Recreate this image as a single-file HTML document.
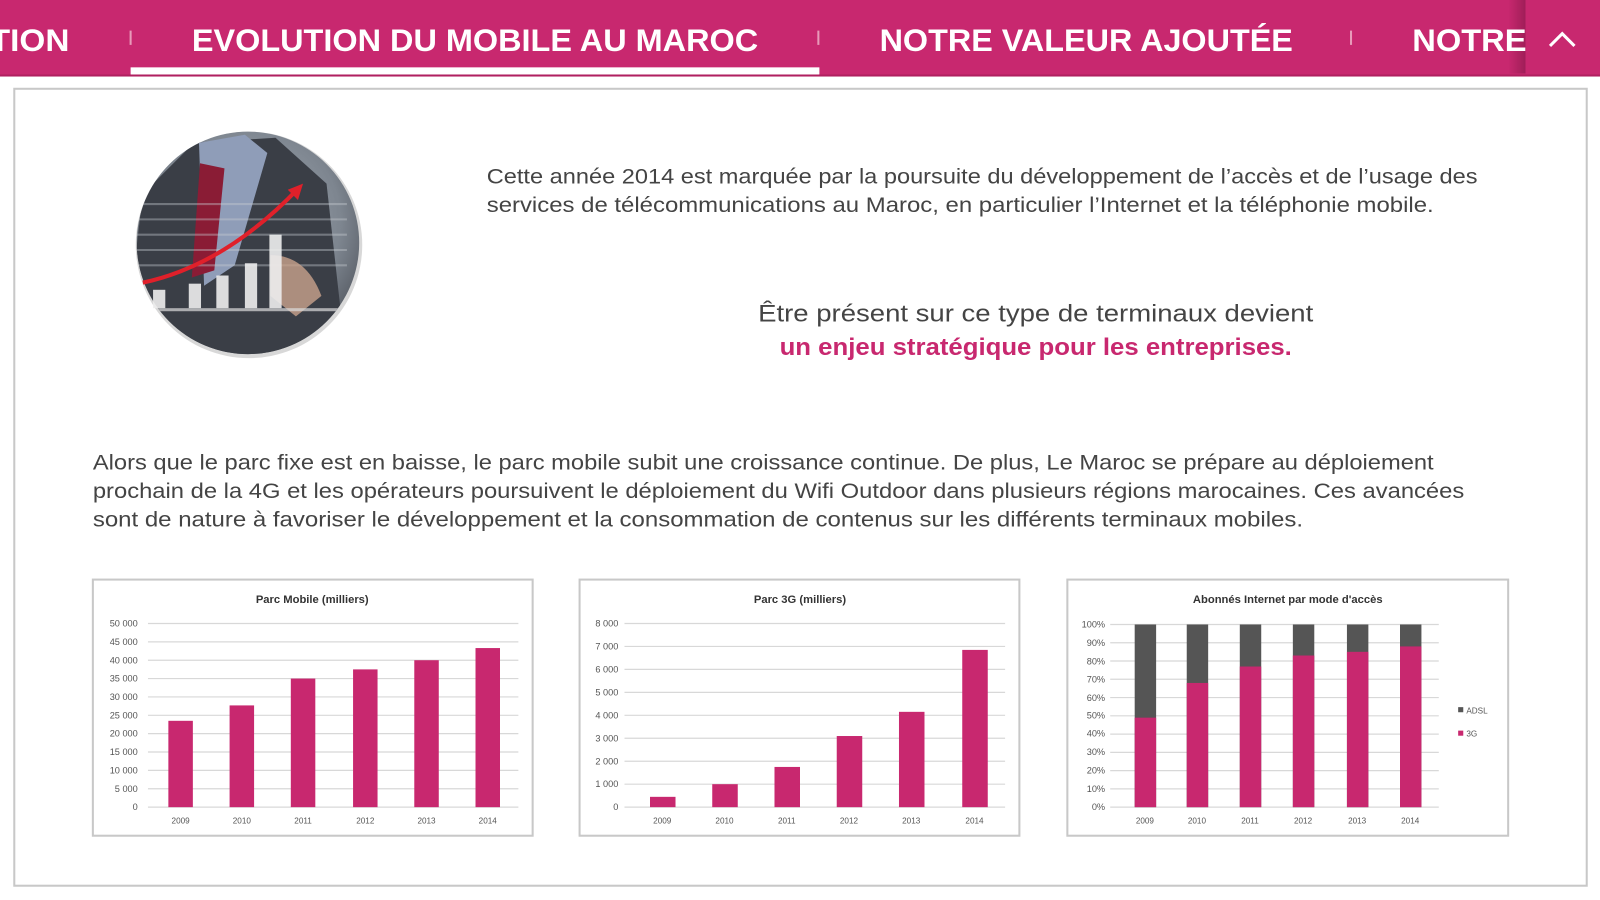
<!DOCTYPE html>
<html><head><meta charset="utf-8"><style>
html,body{margin:0;padding:0;background:#fff;width:1600px;height:900px;overflow:hidden}
svg{display:block}
text{font-family:"Liberation Sans",sans-serif}
</style></head><body>
<svg width="1600" height="900" viewBox="0 0 1568 882" preserveAspectRatio="none" xmlns="http://www.w3.org/2000/svg">
<defs>
<radialGradient id="cg" cx="0.5" cy="0.4" r="0.6"><stop offset="0" stop-color="#a8b0ba"/><stop offset="0.7" stop-color="#7d858f"/><stop offset="1" stop-color="#555a62"/></radialGradient>
<linearGradient id="sh" x1="0" x2="1"><stop offset="0" stop-color="#c8286f"/><stop offset="1" stop-color="#a01e58"/></linearGradient>
<clipPath id="cc"><circle cx="243" cy="238" r="109"/></clipPath>
</defs>
<rect x="0" y="0" width="1568" height="74" fill="#c8286f"/>
<rect x="128" y="66" width="675" height="8" fill="#fff"/>
<rect x="0" y="73" width="1568" height="2" fill="#b02060"/>
<rect x="1478" y="0" width="17" height="72" fill="url(#sh)"/>
<g fill="#fff" font-weight="bold" font-size="31">
<text x="-10" y="50" textLength="78" lengthAdjust="spacingAndGlyphs">TION</text>
<text x="188" y="50" textLength="555" lengthAdjust="spacingAndGlyphs">EVOLUTION DU MOBILE AU MAROC</text>
<text x="862" y="50" textLength="405" lengthAdjust="spacingAndGlyphs">NOTRE VALEUR AJOUTÉE</text>
<text x="1384" y="50" textLength="112" lengthAdjust="spacingAndGlyphs">NOTRE</text>
</g>
<g stroke="#e89ab9" stroke-width="2"><line x1="128" y1="30" x2="128" y2="44"/><line x1="802" y1="30" x2="802" y2="44"/><line x1="1324" y1="30" x2="1324" y2="44"/></g>
<polyline points="1519,45 1531,33 1543,45" fill="none" stroke="#fff" stroke-width="3"/>
<rect x="14" y="87" width="1541" height="781" fill="#fff" stroke="#c8c8c8" stroke-width="2"/>
<circle cx="244" cy="240" r="111" fill="#d8d8d8"/>
<circle cx="243" cy="238" r="109" fill="url(#cg)"/>
<g clip-path="url(#cc)">
<path d="M120 360 L140 190 L190 140 L270 135 L320 180 L340 360Z" fill="#3a3e46"/>
<path d="M195 140 L240 132 L262 150 L230 260 L200 280Z" fill="#8f9db8"/>
<path d="M196 160 L220 165 L210 265 L188 272Z" fill="#8a1c35"/>
<g stroke="#c8ccd2" stroke-width="2" opacity="0.4"><line x1="130" y1="200" x2="340" y2="200"/><line x1="130" y1="215" x2="340" y2="215"/><line x1="130" y1="230" x2="340" y2="230"/><line x1="130" y1="245" x2="340" y2="245"/><line x1="130" y1="260" x2="340" y2="260"/></g>
<path d="M265 250 Q300 250 315 290 L290 310 L265 290Z" fill="#c9a28c" opacity="0.8"/>
<rect x="130" y="302" width="230" height="3" fill="#ddd" opacity="0.7"/>
</g>
<g fill="#eee" opacity="0.9"><rect x="150" y="284" width="12" height="18"/><rect x="185" y="278" width="12" height="24"/><rect x="212" y="270" width="12" height="32"/><rect x="240" y="258" width="12" height="44"/><rect x="264" y="230" width="12" height="72"/></g>
<path d="M140 277 Q220 260 292 185" fill="none" stroke="#e0202a" stroke-width="4"/>
<polygon points="297,180 282,186 292,196" fill="#e0202a"/>
<g fill="#444" font-size="21">
<text x="477" y="180" textLength="971" lengthAdjust="spacingAndGlyphs">Cette année 2014 est marquée par la poursuite du développement de l’accès et de l’usage des</text>
<text x="477" y="208" textLength="928" lengthAdjust="spacingAndGlyphs">services de télécommunications au Maroc, en particulier l’Internet et la téléphonie mobile.</text>
<text x="743" y="315" font-size="24" textLength="544" lengthAdjust="spacingAndGlyphs">Être présent sur ce type de terminaux devient</text>
<text x="764" y="348" font-size="24" font-weight="bold" fill="#c8286f" textLength="502" lengthAdjust="spacingAndGlyphs">un enjeu stratégique pour les entreprises.</text>
<text x="91" y="460" textLength="1314" lengthAdjust="spacingAndGlyphs">Alors que le parc fixe est en baisse, le parc mobile subit une croissance continue. De plus, Le Maroc se prépare au déploiement</text>
<text x="91" y="488" textLength="1344" lengthAdjust="spacingAndGlyphs">prochain de la 4G et les opérateurs poursuivent le déploiement du Wifi Outdoor dans plusieurs régions marocaines. Ces avancées</text>
<text x="91" y="516" textLength="1186" lengthAdjust="spacingAndGlyphs">sont de nature à favoriser le développement et la consommation de contenus sur les différents terminaux mobiles.</text>
</g>
<g fill="#fff" stroke="#c8c8c8" stroke-width="2">
<rect x="91" y="568" width="431" height="251"/><rect x="568" y="568" width="431" height="251"/><rect x="1046" y="568" width="432" height="251"/>
</g>
<g font-size="11" font-weight="bold" fill="#333" text-anchor="middle">
<text x="306" y="591">Parc Mobile (milliers)</text>
<text x="784" y="591">Parc 3G (milliers)</text>
<text x="1262" y="591">Abonnés Internet par mode d'accès</text>
</g>
<g stroke="#d8d8d8" stroke-width="1.2">
<line x1="145" x2="508" y1="611" y2="611"/><line x1="145" x2="508" y1="629" y2="629"/><line x1="145" x2="508" y1="647" y2="647"/><line x1="145" x2="508" y1="665" y2="665"/><line x1="145" x2="508" y1="683" y2="683"/><line x1="145" x2="508" y1="701" y2="701"/><line x1="145" x2="508" y1="719" y2="719"/><line x1="145" x2="508" y1="737" y2="737"/><line x1="145" x2="508" y1="755" y2="755"/><line x1="145" x2="508" y1="773" y2="773"/><line x1="145" x2="508" y1="791" y2="791"/>
<line x1="612" x2="985" y1="611" y2="611"/><line x1="612" x2="985" y1="633.5" y2="633.5"/><line x1="612" x2="985" y1="656" y2="656"/><line x1="612" x2="985" y1="678.5" y2="678.5"/><line x1="612" x2="985" y1="701" y2="701"/><line x1="612" x2="985" y1="723.5" y2="723.5"/><line x1="612" x2="985" y1="746" y2="746"/><line x1="612" x2="985" y1="768.5" y2="768.5"/><line x1="612" x2="985" y1="791" y2="791"/>
<line x1="1088" x2="1410" y1="612" y2="612"/><line x1="1088" x2="1410" y1="629.9" y2="629.9"/><line x1="1088" x2="1410" y1="647.8" y2="647.8"/><line x1="1088" x2="1410" y1="665.7" y2="665.7"/><line x1="1088" x2="1410" y1="683.6" y2="683.6"/><line x1="1088" x2="1410" y1="701.5" y2="701.5"/><line x1="1088" x2="1410" y1="719.4" y2="719.4"/><line x1="1088" x2="1410" y1="737.3" y2="737.3"/><line x1="1088" x2="1410" y1="755.2" y2="755.2"/><line x1="1088" x2="1410" y1="773.1" y2="773.1"/><line x1="1088" x2="1410" y1="791" y2="791"/>
</g>
<g font-size="9" fill="#555" text-anchor="end">
<text x="135" y="614">50 000</text><text x="135" y="632">45 000</text><text x="135" y="650">40 000</text><text x="135" y="668">35 000</text><text x="135" y="686">30 000</text><text x="135" y="704">25 000</text><text x="135" y="722">20 000</text><text x="135" y="740">15 000</text><text x="135" y="758">10 000</text><text x="135" y="776">5 000</text><text x="135" y="794">0</text>
<text x="606" y="614">8 000</text><text x="606" y="636.5">7 000</text><text x="606" y="659">6 000</text><text x="606" y="681.5">5 000</text><text x="606" y="704">4 000</text><text x="606" y="726.5">3 000</text><text x="606" y="749">2 000</text><text x="606" y="771.5">1 000</text><text x="606" y="794">0</text>
<text x="1083" y="615">100%</text><text x="1083" y="633">90%</text><text x="1083" y="651">80%</text><text x="1083" y="669">70%</text><text x="1083" y="687">60%</text><text x="1083" y="704">50%</text><text x="1083" y="722">40%</text><text x="1083" y="740">30%</text><text x="1083" y="758">20%</text><text x="1083" y="776">10%</text><text x="1083" y="794">0%</text>
</g>
<g fill="#c8286f">
<rect x="165" y="706.4" width="24" height="84.6"/><rect x="225" y="691.3" width="24" height="99.7"/><rect x="285" y="665" width="24" height="126"/><rect x="346" y="656" width="24" height="135"/><rect x="406" y="647" width="24" height="144"/><rect x="466" y="635.1" width="24" height="155.9"/>
<rect x="637" y="780.9" width="25" height="10.1"/><rect x="698" y="768.5" width="25" height="22.5"/><rect x="759" y="751.6" width="25" height="39.4"/><rect x="820" y="721.3" width="25" height="69.7"/><rect x="881" y="697.6" width="25" height="93.4"/><rect x="943" y="636.9" width="25" height="154.1"/>
</g>
<g fill="#555">
<rect x="1112" y="612" width="21" height="179"/><rect x="1163" y="612" width="21" height="179"/><rect x="1215" y="612" width="21" height="179"/><rect x="1267" y="612" width="21" height="179"/><rect x="1320" y="612" width="21" height="179"/><rect x="1372" y="612" width="21" height="179"/>
</g>
<g fill="#c8286f">
<rect x="1112" y="703.3" width="21" height="87.7"/><rect x="1163" y="669.3" width="21" height="121.7"/><rect x="1215" y="653.2" width="21" height="137.8"/><rect x="1267" y="642.4" width="21" height="148.6"/><rect x="1320" y="638.8" width="21" height="152.2"/><rect x="1372" y="633.5" width="21" height="157.5"/>
</g>
<g font-size="8" fill="#555" text-anchor="middle">
<text x="177" y="807">2009</text><text x="237" y="807">2010</text><text x="297" y="807">2011</text><text x="358" y="807">2012</text><text x="418" y="807">2013</text><text x="478" y="807">2014</text>
<text x="649" y="807">2009</text><text x="710" y="807">2010</text><text x="771" y="807">2011</text><text x="832" y="807">2012</text><text x="893" y="807">2013</text><text x="955" y="807">2014</text>
<text x="1122" y="807">2009</text><text x="1173" y="807">2010</text><text x="1225" y="807">2011</text><text x="1277" y="807">2012</text><text x="1330" y="807">2013</text><text x="1382" y="807">2014</text>
</g>
<rect x="1429" y="693" width="5" height="5" fill="#555"/><text x="1437" y="699" font-size="8" fill="#555">ADSL</text>
<rect x="1429" y="716" width="5" height="5" fill="#c8286f"/><text x="1437" y="722" font-size="8" fill="#555">3G</text>
</svg>
</body></html>
